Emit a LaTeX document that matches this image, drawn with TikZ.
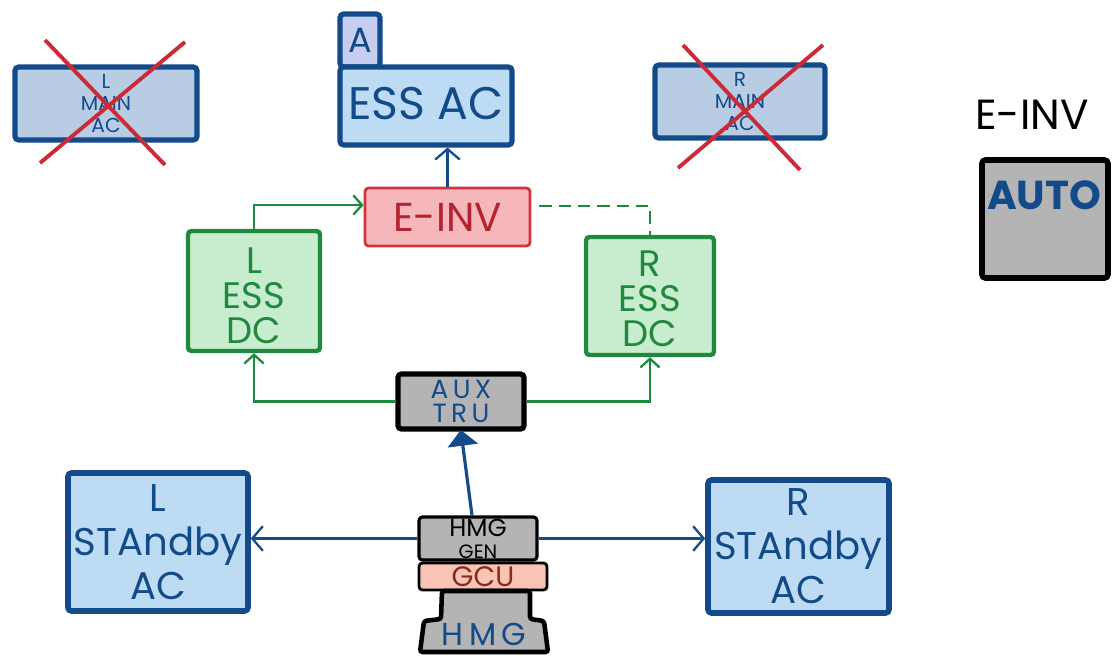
\documentclass[tikz,border=0pt]{standalone}
\usepackage{fontspec}
\setmainfont{Poppins}
\usetikzlibrary{arrows.meta,fit,calc}
\definecolor{dblue}{RGB}{18,74,138}
\definecolor{lblue}{RGB}{190,219,244}
\definecolor{mblue}{RGB}{184,205,228}
\definecolor{tabfill}{RGB}{198,205,238}
\definecolor{dgreen}{RGB}{31,138,62}
\definecolor{lgreen}{RGB}{199,236,206}
\definecolor{rborder}{RGB}{208,52,60}
\definecolor{rfill}{RGB}{245,183,186}
\definecolor{rtext}{RGB}{181,35,48}
\definecolor{gfill}{RGB}{180,180,180}
\definecolor{gcufill}{RGB}{249,195,181}
\definecolor{gcutext}{RGB}{138,42,26}
\definecolor{xred}{RGB}{204,42,54}
\tikzset{
  bluebox/.style={draw=dblue, line width=2.9pt, fill=lblue, rounded corners=2pt, inner sep=0pt, align=center, text=dblue},
  greenbox/.style={draw=dgreen, line width=2.5pt, fill=lgreen, rounded corners=2pt, inner sep=0pt, align=center, text=dgreen},
  greybox/.style={draw=black, line width=2.6pt, fill=gfill, rounded corners=2pt, inner sep=0pt, align=center},
  barrow/.style={draw=dblue, line width=1.3pt, -{Straight Barb[length=6pt,width=14pt,line width=1.3pt]}},
  garrow/.style={draw=dgreen, line width=1.3pt, -{Straight Barb[length=5pt,width=11pt,line width=1.3pt]}},
  xline/.style={draw=xred, line width=2.2pt},
}
\begin{document}
\begin{tikzpicture}[x=0.02cm,y=-0.02cm]
\useasboundingbox (0,0) rectangle (1116,663);
% crossed-out main AC boxes
\node[bluebox, fill=mblue, fit={(15,67) (197,140)}] (lmain) {};
\node[text=dblue, align=center, font=\fontsize{11.5}{12.5}\selectfont] (lmaint) at (lmain.center) {L\\MAIN\\AC};
\draw[xline] (45,40) -- (165,165);
\draw[xline] (185,42) -- (40,163);
\node[bluebox, fill=mblue, fit={(655,65) (825,138)}] (rmain) {};
\node[text=dblue, align=center, font=\fontsize{11.5}{12.5}\selectfont] (rmaint) at (rmain.center) {R\\MAIN\\AC};
\draw[xline] (683,45) -- (800,170);
\draw[xline] (823,45) -- (678,168);
% ESS AC with tab
\node[bluebox, fill=tabfill, fit={(340,14) (380,67)}, label={[text=dblue, font=\fontsize{20}{20}\selectfont]center:A}] (tab) {};
\node[bluebox, fit={(340,67) (512,145)}] (essac) {};
\node[text=dblue, font=\fontsize{26}{26}\selectfont] (essact) at ($(essac.center)+(0,-2)$) {ESS AC};
% E-INV / AUTO legend
\node[font=\fontsize{24}{24}\selectfont] (einvlbl) at (1032,115) {E-INV};
\node[greybox, line width=3.2pt, fit={(982,160) (1108,278)}] (auto) {};
\node[text=dblue, font=\bfseries\fontsize{23}{23}\selectfont] (autot) at (1044,195) {AUTO};
% E-INV
\node[draw=rborder, fill=rfill, line width=1.6pt, rounded corners=2pt, inner sep=0pt, fit={(365,188) (530,246)}] (einv) {};
\node[text=rtext, font=\fontsize{23}{23}\selectfont] (einvt) at (einv.center) {E-INV};
% ESS DC
\node[greenbox, fit={(188,231) (320,351)}] (ldc) {};
\node[text=dgreen, align=center, font=\fontsize{21}{20}\selectfont] (ldct) at ($(ldc.center)+(0,5)$) {L\\ESS\\DC};
\node[greenbox, fit={(586,237) (714,355)}] (rdc) {};
\node[text=dgreen, align=center, font=\fontsize{21}{20}\selectfont] (rdct) at ($(rdc.center)+(0,3)$) {R\\ESS\\DC};
% AUX TRU
\node[greybox, line width=3pt, fit={(398,374) (524,429)}] (aux) {};
\node[text=dblue, align=center, font=\fontsize{15}{14}\selectfont] (auxt) at (aux.center) {A\,U\,X\\T\,R\,U};
% Standby AC
\node[bluebox, line width=3.2pt, fit={(68,473) (248,611)}] (lsb) {};
\node[text=dblue, align=center, font=\fontsize{22}{25}\selectfont] (lsbt) at (lsb.center) {L\\STAndby\\AC};
\node[bluebox, line width=3.2pt, fit={(708,480) (889,613)}] (rsb) {};
\node[text=dblue, align=center, font=\fontsize{22}{25}\selectfont] (rsbt) at (rsb.center) {R\\STAndby\\AC};
% HMG stack
\node[greybox, line width=1.8pt, fit={(419,517) (537,560)}] (hmggen) {};
\node[align=center, font=\fontsize{14}{12.5}\selectfont] (hmggent) at (hmggen.center) {HMG\\{\fontsize{11}{11}\selectfont GEN}};
\node[draw=black, line width=1.6pt, fill=gcufill, rounded corners=2pt, inner sep=0pt, fit={(419,563) (547,590)}] (gcu) {};
\node[text=gcutext, font=\fontsize{16}{16}\selectfont] (gcut) at (gcu.center) {GCU};
\draw[draw=black, line width=2.6pt, fill=gfill, rounded corners=1.5pt]
  (442,591) -- (530,591) -- (530,619) -- (544,621) -- (548,652) -- (420,652) -- (424,621) -- (441,619) -- cycle;
\coordinate (hmgc) at (484,634);
\node[text=dblue, font=\fontsize{18}{18}\selectfont] (hmgbase) at (hmgc) {H\,M\,G};
% connectors
\draw[barrow] (einv.north) -- (einv.north |- essac.south);
\draw[garrow] (ldc.north) |- ($(einv.west)+(0,-12)$);
\draw[draw=dgreen, line width=1.3pt, dash pattern=on 7pt off 4pt] ($(einv.east)+(8,-11)$) -| (rdc.north);
\draw[garrow] (aux.west) -| (ldc.south);
\draw[garrow] (aux.east) -| (rdc.south);
\draw[draw=dblue, line width=1.8pt, -{Triangle[length=9pt,width=17pt]}, shorten >=-1pt] ($(hmggen.north)+(-6,0)$) -- (aux.south);
\draw[barrow] (hmggen.west) -- (lsb.east |- hmggen.west);
\draw[barrow] (hmggen.east) -- (rsb.west |- hmggen.east);
\end{tikzpicture}
\end{document}
